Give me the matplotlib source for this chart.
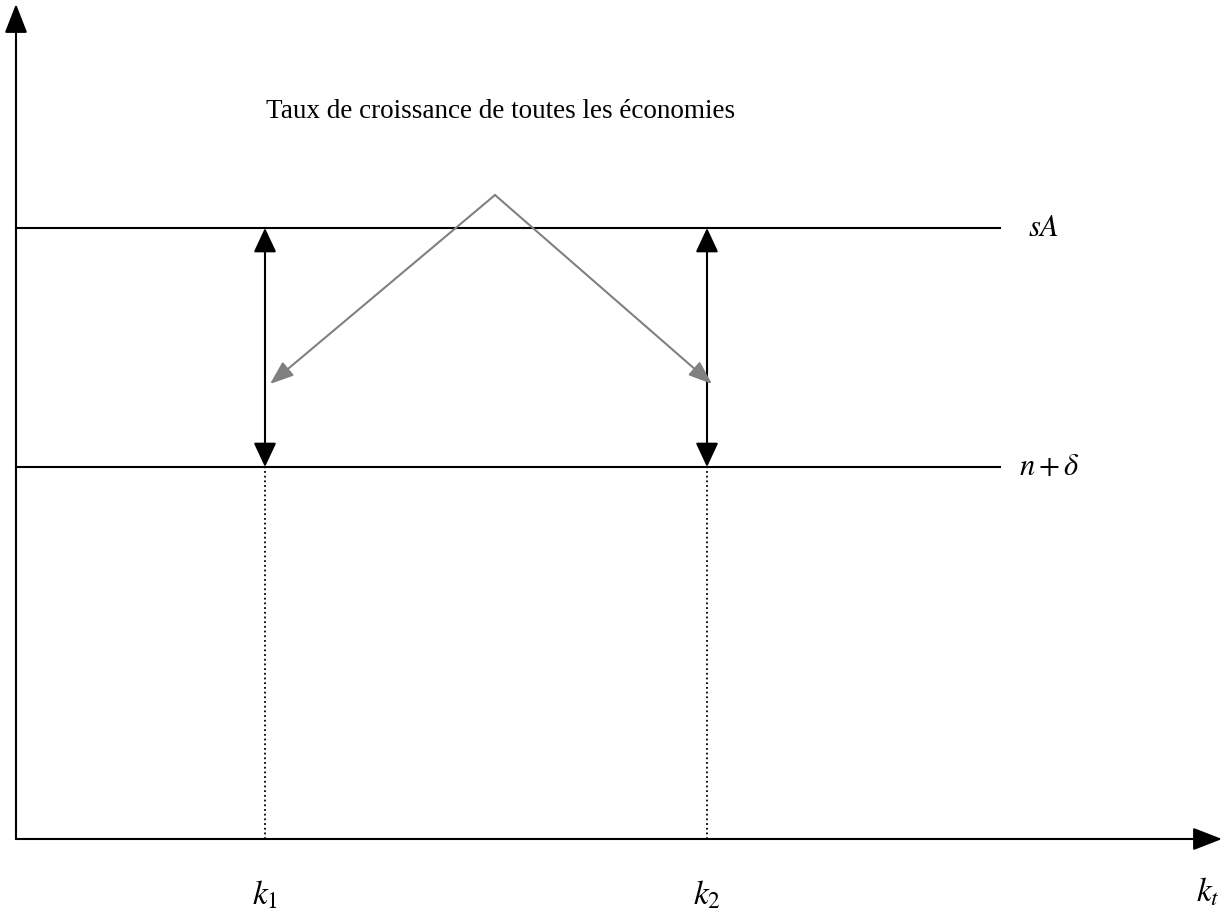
import matplotlib
matplotlib.use('Agg')
import matplotlib.pyplot as plt

# ── Schematic values (origin at the axes crossing) ───────────────────────────
level_labels = [r'$sA$', r'$n+\delta$']
level_values = [611, 372]
level_label_x = [1012, 1003]
k_labels = [r'$k_1$', r'$k_2$']
k_values = [249, 691]
axis_label_x = r'$k_t$'
x_end, y_end = 1206, 835
line_end = 984
note_text = 'Taux de croissance de toutes les économies'
note_apex = (479, 644)
note_tip_y = 455

plt.rcParams['mathtext.fontset'] = 'stix'
plt.rcParams['font.family'] = ['Liberation Serif', 'DejaVu Serif']

fig = plt.figure(figsize=(12.27, 9.2), dpi=100)
ax = fig.add_axes([0, 0, 1, 1])
ax.set_xlim(-16, 1211)
ax.set_ylim(-80, 840)
ax.axis('off')

# axes with arrowheads
axis_style = dict(arrowstyle='-|>,head_length=0.9,head_width=0.35',
                  mutation_scale=20, color='black', lw=1.5,
                  shrinkA=0, shrinkB=0)
ax.annotate('', xy=(0, y_end), xytext=(0, 0), arrowprops=axis_style)
ax.annotate('', xy=(x_end, 0), xytext=(0, 0), arrowprops=axis_style)
ax.text(x_end - 14, -52, axis_label_x, fontsize=24, ha='center', va='center')

# horizontal levels
for lab, val, lx in zip(level_labels, level_values, level_label_x):
    ax.plot([0, line_end], [val, val], color='black', lw=1.5)
    ax.text(lx, val, lab, fontsize=22, ha='left', va='center')

# double arrows between the levels + dotted drop lines
for lab, kv in zip(k_labels, k_values):
    ax.annotate('', xy=(kv, level_values[0]), xytext=(kv, level_values[1]),
                arrowprops=dict(arrowstyle='<|-|>,head_length=0.75,head_width=0.35',
                                mutation_scale=20, color='black', lw=1.5,
                                shrinkA=0, shrinkB=0))
    ax.plot([kv, kv], [0, level_values[1]], color='black', lw=1.3,
            linestyle=(0, (1, 1.6)))
    ax.text(kv, -55, lab, fontsize=24, ha='center', va='center')

# annotation with gray arrows
ax.text(485, 729, note_text, fontsize=19.5, ha='center', va='center')
for kv in k_values:
    ax.annotate('', xy=(kv + 5, note_tip_y), xytext=note_apex,
                arrowprops=dict(arrowstyle='-|>,head_length=0.8,head_width=0.3',
                                mutation_scale=18, color='#808080', lw=1.5,
                                shrinkA=0, shrinkB=0))

fig.savefig('out.png', dpi=100)
